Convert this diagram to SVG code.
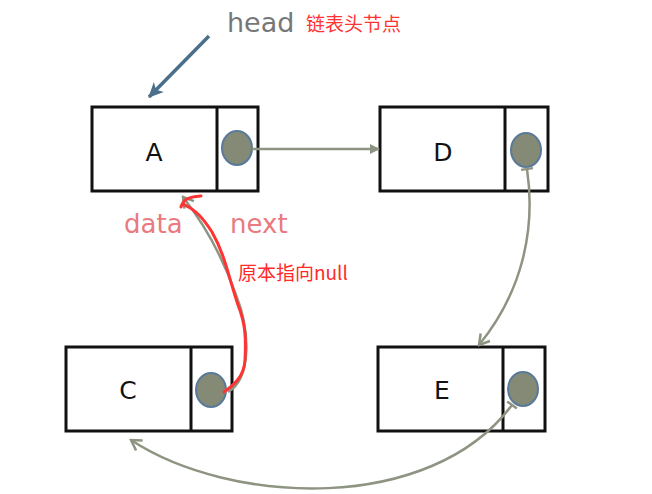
<svg xmlns="http://www.w3.org/2000/svg" width="652" height="494" viewBox="0 0 652 494">
<style>
.box{fill:#fff;stroke:#111;stroke-width:3}
.dot{fill:#858a76;stroke:#5a7a9a;stroke-width:2}
.lbl{font-family:"DejaVu Sans",sans-serif;font-size:25px;fill:#111;text-anchor:middle}
.con{fill:none;stroke:#8e9482;stroke-width:2.5}
</style>
<defs>
<marker id="tri" markerWidth="10" markerHeight="10" refX="9" refY="5" orient="auto" markerUnits="userSpaceOnUse" viewBox="0 0 10 10"><path d="M0,0 L10,5 L0,10 z" fill="#8e9482"/></marker>
<marker id="open" markerWidth="14" markerHeight="14" refX="12" refY="7" orient="auto" markerUnits="userSpaceOnUse" viewBox="0 0 14 14"><path d="M2,1 L12,7 L2,13" fill="none" stroke="#8e9482" stroke-width="2.5"/></marker>
<marker id="tee" markerWidth="12" markerHeight="12" refX="6" refY="6" orient="auto" markerUnits="userSpaceOnUse" viewBox="0 0 12 12"><path d="M6,0 L6,12" stroke="#8e9482" stroke-width="2.5"/></marker>
<marker id="headArr" markerWidth="16" markerHeight="16" refX="14" refY="8" orient="auto" markerUnits="userSpaceOnUse" viewBox="0 0 16 16"><path d="M0,1 L15,8 L0,15 L4,8 z" fill="#4a6f8a"/></marker>
</defs>
<g id="head">
<text x="227" y="32" font-family="DejaVu Sans,sans-serif" font-size="27" fill="#777">head</text>
<text x="306" y="31" font-family="Noto Sans CJK SC,sans-serif" font-size="19" fill="#ff3333">链表头节点</text>
</g>
<g id="nodeA">
<rect x="92" y="107" width="166" height="84" class="box"/>
<line x1="217" y1="107" x2="217" y2="191" stroke="#111" stroke-width="3"/>
<ellipse cx="237" cy="148" rx="15" ry="17" class="dot"/>
<text x="154" y="161" class="lbl">A</text>
</g>
<g id="nodeD">
<rect x="380" y="107" width="168" height="84" class="box"/>
<line x1="505" y1="107" x2="505" y2="191" stroke="#111" stroke-width="3"/>
<ellipse cx="526" cy="150" rx="15" ry="17" class="dot"/>
<text x="443" y="161" class="lbl">D</text>
</g>
<g id="nodeC">
<rect x="66" y="347" width="166" height="84" class="box"/>
<line x1="191" y1="347" x2="191" y2="431" stroke="#111" stroke-width="3"/>
<ellipse cx="211" cy="390" rx="15" ry="17" class="dot"/>
<text x="128" y="399" class="lbl">C</text>
</g>
<g id="nodeE">
<rect x="378" y="347" width="167" height="84" class="box"/>
<line x1="503" y1="347" x2="503" y2="431" stroke="#111" stroke-width="3"/>
<ellipse cx="523" cy="389" rx="15" ry="17" class="dot"/>
<text x="442" y="399" class="lbl">E</text>
</g>
<g id="labels">
<text x="124" y="233" font-family="DejaVu Sans,sans-serif" font-size="26" fill="#ea7a80">data</text>
<text x="230" y="233" font-family="DejaVu Sans,sans-serif" font-size="26" fill="#ea7a80">next</text>
<text x="238" y="280" font-family="Noto Sans CJK SC,sans-serif" font-size="19" fill="#ff2a2a">原本指向null</text>
</g>
<g id="connectors">
<line x1="209" y1="36" x2="149" y2="97" stroke="#4a6f8a" stroke-width="3.5" marker-end="url(#headArr)"/>
<line x1="252" y1="149" x2="379" y2="149" class="con" marker-end="url(#tri)"/>
<path d="M527,169 C536,230 522,292 479,345" class="con" marker-start="url(#tee)" marker-end="url(#open)"/>
<path d="M512,405 C430,515 230,505 131,440" class="con" marker-start="url(#tee)" marker-end="url(#open)"/>
<path d="M228,392 C252,378 250,330 236,295 C222,255 205,225 183,197" class="con" marker-end="url(#open)"/>
<path d="M224,392 C232,386 244,378 245,360 C246,340 246,325 238,305 C228,275 225,255 212,232 C203,218 196,210 183,204 M181,207 C183,200 187,197 201,196" fill="none" stroke="#ff3333" stroke-width="3" stroke-linecap="round"/>
</g>
</svg>
